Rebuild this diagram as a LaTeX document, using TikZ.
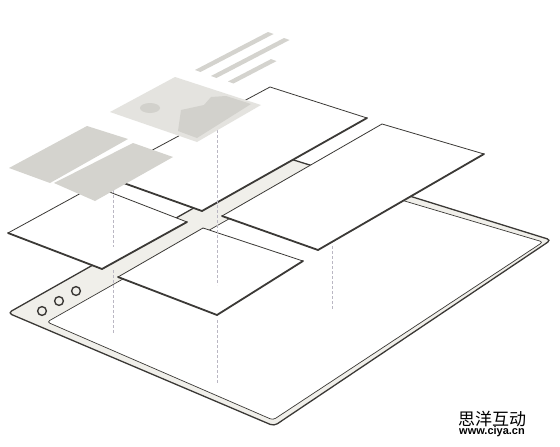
\documentclass[tikz,border=0pt]{standalone}
\usepackage{fontspec}
\setmainfont{Liberation Sans}
\newfontfamily\cjk{Noto Sans CJK SC}
\definecolor{ink}{HTML}{3B3936}
\definecolor{strip}{HTML}{F0EFEA}
\definecolor{gblock}{HTML}{D4D3CE}
\definecolor{gimg}{HTML}{E4E3DF}
\definecolor{gmnt}{HTML}{D2D1CC}
\definecolor{projc}{HTML}{BAB7C3}
\begin{document}
\begin{tikzpicture}[x=1pt,y=-1pt,
  thinedge/.style={draw=ink,line width=0.8pt,line join=round,line cap=round},
  thickedge/.style={draw=ink,line width=1.8pt,line join=round,line cap=round},
  proj/.style={draw=projc,line width=0.7pt,dash pattern=on 3pt off 2pt},
  grayfill/.style={fill=gblock},
  btn/.style={draw=ink,line width=1.4pt,fill=strip}]
\useasboundingbox (0,0) rectangle (560,447);
\fill[white] (0,0) rectangle (560,447);

% ---------- browser frame ----------
\coordinate (oL) at (8,313);
\coordinate (oB) at (274,426);
\coordinate (oR) at (551,240);
\coordinate (oT) at (284,157);
\coordinate (iL) at (47,322);
\coordinate (iB) at (273,420);
\coordinate (iR) at (543,242);
\coordinate (iT) at (310,173);
\begin{scope}[shift={(0.5,2.0)}]
  \fill[ink!90, rounded corners=4pt] (oL)--(oB)--(oR)--(oT)--cycle;
\end{scope}
\draw[ink, fill=strip, line width=1.3pt, rounded corners=4pt] (oL)--(oB)--(oR)--(oT)--cycle;
\draw[ink, fill=white, line width=0.7pt, rounded corners=3pt] (iL)--(iB)--(iR)--(iT)--cycle;
\draw[btn] (42,311) circle (4.4);
\draw[btn] (59,301) circle (4.4);
\draw[btn] (76,291) circle (4.4);

% ---------- panels ----------
% panel 1 (upper middle)
\coordinate (aT) at (270,87);  \coordinate (aR) at (367,118);
\coordinate (aB) at (202,211); \coordinate (aL) at (104,176);
\fill[white] (aT)--(aR)--(aB)--(aL)--cycle;
\draw[thinedge] (aL)--(aT)--(aR);
\draw[thickedge] (aR)--(aB)--(aL);
% panel 3 (right)
\coordinate (cT) at (382,124); \coordinate (cR) at (484,154);
\coordinate (cB) at (318,250); \coordinate (cL) at (222,216);
\fill[white] (cT)--(cR)--(cB)--(cL)--cycle;
\draw[thinedge] (cL)--(cT)--(cR);
\draw[thickedge] (cR)--(cB)--(cL);
% panel 4 (left)
\coordinate (dT) at (94,186);  \coordinate (dR) at (187,222);
\coordinate (dB) at (102,269); \coordinate (dL) at (8,233);
\fill[white] (dT)--(dR)--(dB)--(dL)--cycle;
\draw[thinedge] (dL)--(dT)--(dR);
\draw[thickedge] (dR)--(dB)--(dL);
% panel 5 (lower middle)
\coordinate (eT) at (203,228); \coordinate (eR) at (303,261);
\coordinate (eB) at (217,315); \coordinate (eL) at (118,277);
\fill[white] (eT)--(eR)--(eB)--(eL)--cycle;
\draw[thinedge] (eL)--(eT)--(eR);
\draw[thickedge] (eR)--(eB)--(eL);

% ---------- projection lines ----------
\draw[proj] (113.5,185) -- (113.5,247);
\draw[proj] (113.5,270) -- (113.5,333);
\draw[proj] (217.3,125) -- (217.3,285);
\draw[proj] (217.3,320) -- (217.3,383);
\draw[proj] (332,246) -- (332,310);

% ---------- gray content blocks ----------
\fill[grayfill] (9,168)--(87,126)--(128,139)--(50,183)--cycle;
\fill[grayfill] (54,183)--(133,143)--(173,157)--(95,201)--cycle;
% image placeholder
\fill[gimg] (110,112)--(175,77)--(261,105)--(197,142)--cycle;
\fill[gmnt] (178,131)--(181,110)--(204,105)--(211,97)--(226,96)--(251,104)--(197,138)--cycle;
\fill[gmnt] (150,108) ellipse [x radius=10, y radius=5];
% text bars
\fill[grayfill] (195,70)--(200.5,72)--(273.5,34)--(268,32)--cycle;
\fill[grayfill] (211,76)--(216.5,78)--(289.5,40)--(284,38)--cycle;
\fill[grayfill] (228,81.5)--(233.5,83.5)--(276.5,61.1)--(271,59.1)--cycle;

% ---------- watermark ----------
\node[inner sep=0pt, font=\cjk\fontsize{17}{17}\selectfont] (wm1) at (492,419) {思洋互动};
\node[inner sep=0pt, font=\bfseries\fontsize{11}{11}\selectfont] (wm2) at (492,432) {www.ciya.cn};
\end{tikzpicture}
\end{document}
